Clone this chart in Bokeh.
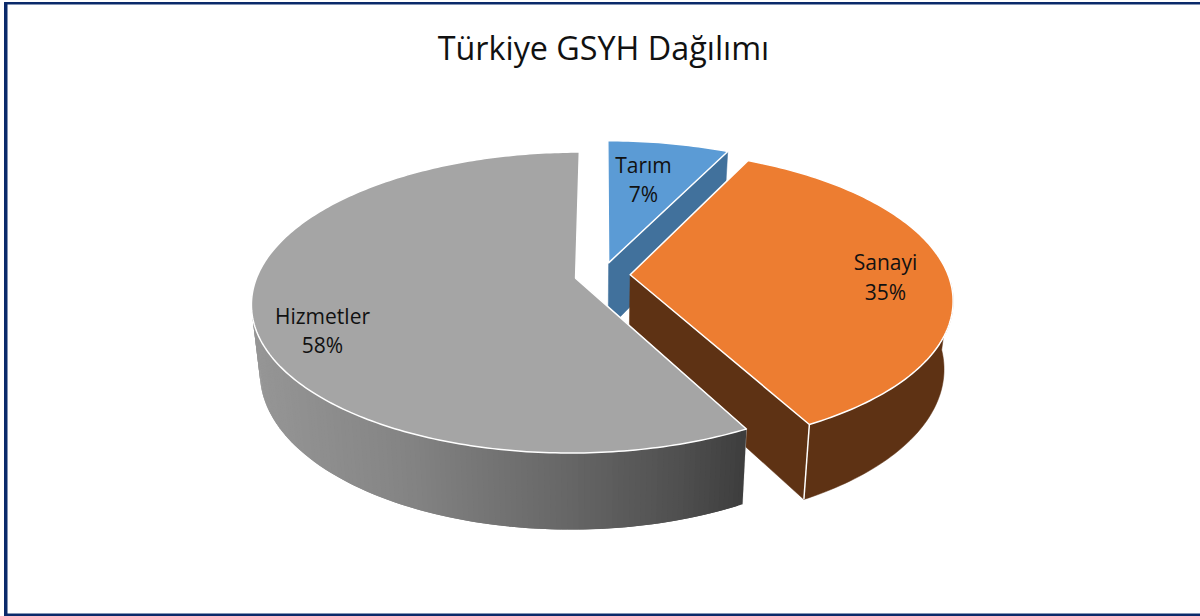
import math
from bokeh.plotting import figure
from bokeh.models import Range1d
from bokeh.core.properties import value
from bokeh.embed import file_html
from bokeh.resources import INLINE

categories = ["Tarım", "Sanayi", "Hizmetler"]
shares = [7.2, 35.0, 57.8]
title_text = "Türkiye GSYH Dağılımı"
top_colors = ["#5B9BD5", "#ED7D31", "#A5A5A5"]
wall_colors = ["#41719C", "#5E3214", "#A5A5A5"]
label_centers = [(643, 164, 193), (885, 261, 291), (322, 315, 344)]

W, H = 1200, 616
OX, OY, K, M, A, EXPLODE = 602.0, 274.5, 318.0, 145.5, 0.162, 0.087
VX, S, D0, D1 = 590.0, 0.975, 66.0, 0.055
FONT = "Open Sans"


def project(u, v):
    w = 1 + A * v
    return OX + K * u / w, OY - M * v / w


def drop(pt):
    return VX + (pt[0] - VX) * S, pt[1] + D0 + D1 * (pt[1] - 260)


def arc(start, end, du, dv, n):
    pts = []
    for i in range(n + 1):
        t = math.radians(start + (end - start) * i / n)
        pts.append(project(math.cos(t) + du, math.sin(t) + dv))
    return pts


p = figure(width=W, height=H, x_range=Range1d(0, W), y_range=Range1d(H, 0),
           toolbar_location=None, output_backend="svg", min_border=0,
           background_fill_color="white",
           border_fill_color="white", outline_line_color=None)
p.axis.visible = False
p.grid.visible = False

# frame
FRAME = "#0B2A6B"
p.quad(left=[4], right=[6.5], top=[2], bottom=[616], color=FRAME)
p.quad(left=[4], right=[1200], top=[2], bottom=[3.5], color=FRAME)
p.quad(left=[4], right=[1200], top=[613.5], bottom=[616], color=FRAME)

# slice geometry from the shares: clockwise from the top
angle = 90.0
slices = []
for share in shares:
    sweep = share * 3.6
    mid = math.radians(angle - sweep / 2)
    du, dv = EXPLODE * math.cos(mid), EXPLODE * math.sin(mid)
    slices.append((angle, angle - sweep, du, dv))
    angle -= sweep


def wall_grey(x):
    stops = [(255, 0x96), (400, 0x85), (560, 0x68), (680, 0x50), (745, 0x3E)]
    for (x0, c0), (x1, c1) in zip(stops, stops[1:]):
        if x <= x1:
            c = c0 + (c1 - c0) * max(0.0, (x - x0)) / (x1 - x0)
            break
    else:
        c = stops[-1][1]
    c = int(c)
    return f"#{c:02x}{c:02x}{c:02x}"


def radial_wall(apex, rim, color):
    a, r = apex, rim
    p.patch([a[0], r[0], drop(r)[0], drop(a)[0]],
            [a[1], r[1], drop(r)[1], drop(a)[1]],
            fill_color=color, line_color=color, line_width=0.5)


# Tarım wall
s0, e0, du, dv = slices[0]
apex0 = project(du, dv)
rim0 = arc(s0, e0, du, dv, 24)
radial_wall(apex0, rim0[-1], wall_colors[0])

# Sanayi walls
s1, e1, du, dv = slices[1]
apex1 = project(du, dv)
rim1 = arc(s1, e1, du, dv, 120)
radial_wall(apex1, rim1[-1], wall_colors[1])
front = [q for q in rim1 if q[1] > 280]
xs = [q[0] for q in front] + [drop(q)[0] for q in reversed(front)]
ys = [q[1] for q in front] + [drop(q)[1] for q in reversed(front)]
p.patch(xs, ys, fill_color=wall_colors[1], line_color=wall_colors[1], line_width=0.5)
d = drop(rim1[-1])
p.line([rim1[-1][0], d[0]], [rim1[-1][1], d[1]], line_color="white", line_width=1.5)

# Hizmetler walls: overlapping strips, painted left to right, for the gradient
s2, e2, du, dv = slices[2]
apex2 = project(du, dv)
rim2 = arc(s2, e2, du, dv, 240)
radial_wall(apex2, rim2[0], "#D2D2D2")
front = [q for q in rim2 if q[1] > 280]
for i in range(len(front) - 1):
    a = front[i]
    b = front[min(i + 2, len(front) - 1)]
    c = wall_grey((a[0] + front[i + 1][0]) / 2)
    da, db = drop(a), drop(b)
    p.patch([a[0], b[0], db[0], da[0]], [a[1], b[1], db[1], da[1]],
            fill_color=c, line_color=None)

# top faces
for (apex, rim, color) in zip((apex0, apex1, apex2), (rim0, rim1, rim2), top_colors):
    xs = [apex[0]] + [q[0] for q in rim]
    ys = [apex[1]] + [q[1] for q in rim]
    p.patch(xs, ys, fill_color=color, line_color="white", line_width=1.5,
            line_join="round")

# labels
for name, share, (cx, y1, y2) in zip(categories, shares, label_centers):
    p.text(x=[cx], y=[y1], text=[name], text_align="center", text_baseline="middle",
           text_font=value(FONT), text_font_size="21px", text_color="#111111")
    p.text(x=[cx], y=[y2], text=[f"{round(share)}%"], text_align="center",
           text_baseline="middle", text_font=value(FONT), text_font_size="21px",
           text_color="#111111")

p.text(x=[603], y=[46], text=[title_text], text_align="center", text_baseline="middle",
       text_font=value(FONT), text_font_size="32.3px", text_color="#111111")

open("out.html", "w").write(file_html(p, INLINE))
